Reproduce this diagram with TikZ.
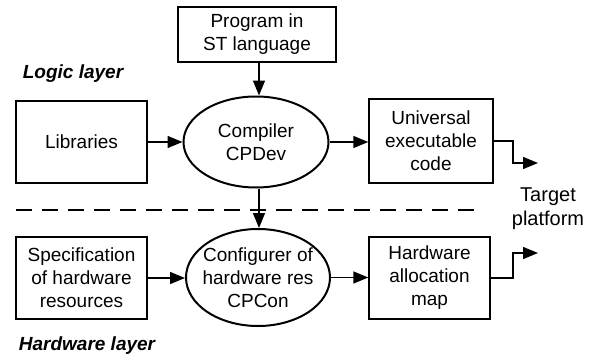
\documentclass[tikz,border=0pt]{standalone}
\usepackage{fontspec}
\setmainfont{Liberation Sans}
\usetikzlibrary{arrows.meta,shapes.geometric}
\begin{document}
\begin{tikzpicture}[x=1pt,y=-1pt,
  font=\fontsize{19}{23}\selectfont,
  box/.style={draw, line width=1.4pt, align=center, inner sep=0pt},
  oval/.style={draw, ellipse, line width=2pt, inner sep=0pt},
  txt/.style={align=center, inner sep=0pt},
  conn/.style={line width=1.4pt, -{Triangle[length=15pt,width=12pt]}},
  lbl/.style={font=\fontsize{19}{23}\selectfont\bfseries\itshape}]
\useasboundingbox (0,0) rectangle (591,356);
\node[box, minimum width=158pt, minimum height=55pt] (prog) at (257,34.5) {Program in\\ST language};
\node[lbl] (logic) at (73,74) {Logic layer};
\node[box, minimum width=131pt, minimum height=82pt] (lib) at (81.5,142) {Libraries};
\node[oval, minimum width=145pt, minimum height=91pt] (comp) at (256,142) {};
\node[txt] (compt) at (comp) {Compiler\\CPDev};
\node[box, minimum width=124pt, minimum height=84pt] (univ) at (431,141) {Universal\\executable\\code};
\coordinate (t1) at (538,163);
\draw[line width=1.5pt, dashed, dash pattern=on 16pt off 10pt] (16,210) -- (478,210);
\node[align=center, font=\fontsize{20}{24}\selectfont] (target) at (548,209) {Target\\platform};
\node[box, minimum width=131pt, minimum height=82pt] (spec) at (81.5,278) {Specification\\of hardware\\resources};
\node[oval, minimum width=144pt, minimum height=97pt] (conf) at (258,277.5) {};
\node[txt] (conft) at (conf) {Configurer of\\hardware res\\CPCon};
\node[box, minimum width=121pt, minimum height=82pt] (hw) at (429.5,278) {Hardware\\allocation\\map};
\coordinate (t2) at (538,253);
\coordinate (vx) at (259,0);
\node[lbl] (hwl) at (87,346) {Hardware layer};
\draw[conn] (prog.south -| vx) -- (comp.north -| vx);
\draw[conn] (lib) -- (lib -| comp.west);
\draw[conn] (comp.east) -- (comp.east -| univ.west);
\draw[conn] (univ.east) -- (513,141) -- (513,163) -- (t1);
\draw[conn] (comp.south -| vx) -- (conf.north -| vx);
\draw[conn] (spec) -- (spec -| conf.west);
\draw[conn] (conf.east) -- (conf.east -| hw.west);
\draw[conn] (hw.east) -- (513,278) -- (513,253) -- (t2);
\end{tikzpicture}
\end{document}
